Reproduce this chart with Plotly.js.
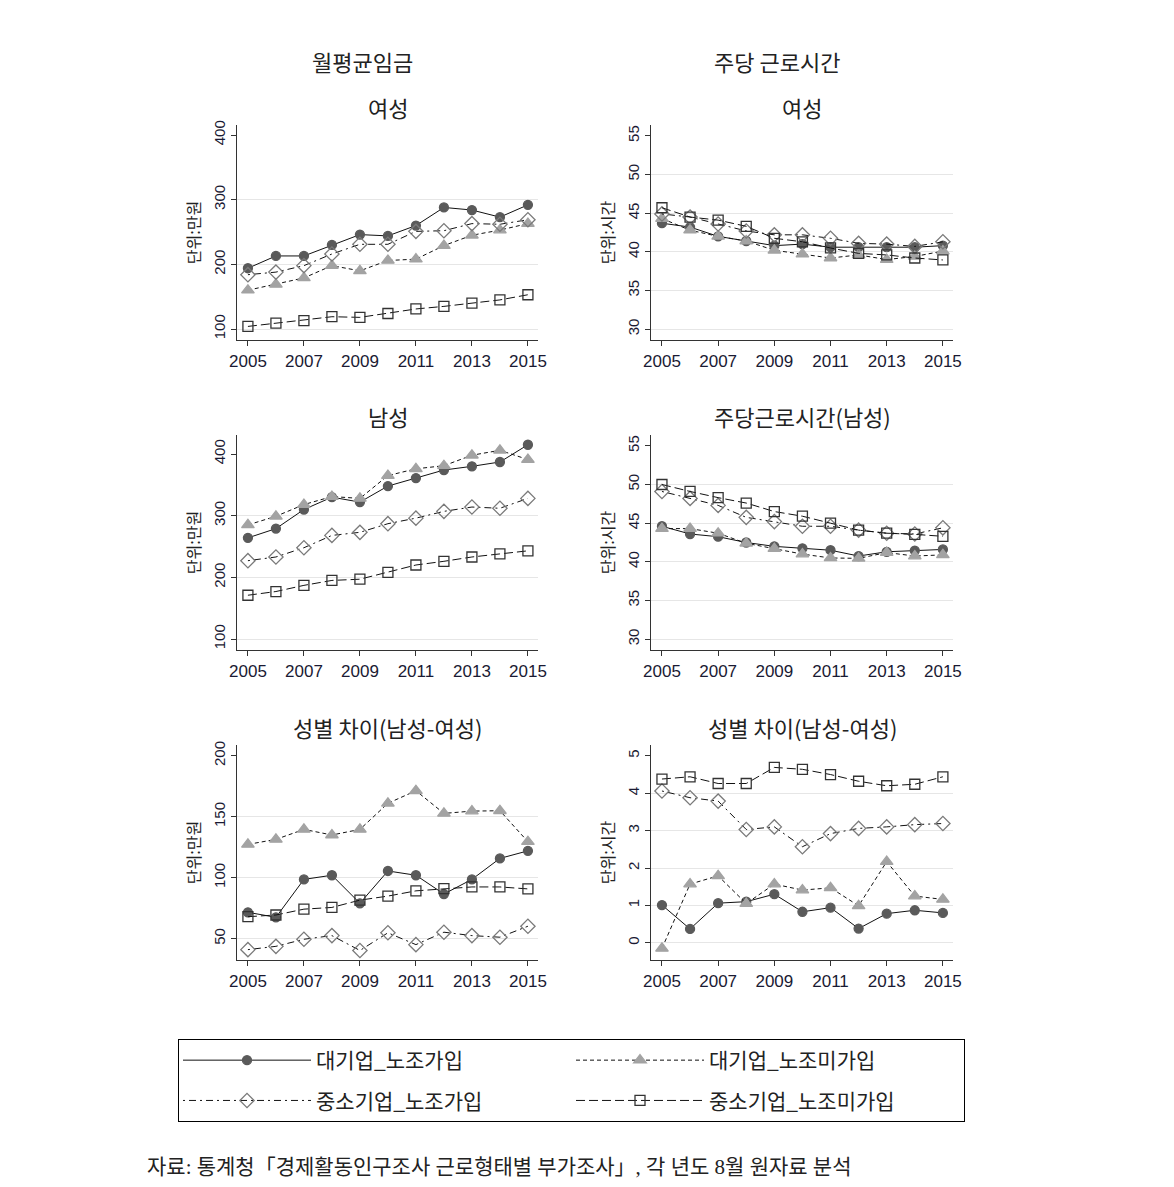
<!DOCTYPE html>
<html>
<head>
<meta charset="utf-8">
<script src="https://cdn.plot.ly/plotly-3.0.1.min.js"></script>
<style>html,body{margin:0;padding:0;background:#fff;}</style>
</head>
<body>
<div id="plot" style="width:1174px;height:1187px;"></div>
<script>
// 연도
const years = [2005, 2006, 2007, 2008, 2009, 2010, 2011, 2012, 2013, 2014, 2015];
const xTicks = [2005, 2007, 2009, 2011, 2013, 2015];

// 월평균임금 - 여성 (만원)
const wageF_LU = [194, 213, 213, 230, 246, 244, 260, 288, 284, 273, 292];
const wageF_LN = [160, 169, 179, 198, 190, 206, 208, 229, 245, 253, 263];
const wageF_SU = [184, 188, 198, 216, 231, 231, 251, 252, 263, 262, 269];
const wageF_SN = [104, 109, 113, 119, 118, 124, 131, 135, 140, 145, 153];

// 월평균임금 - 남성
const wageM_LU = [264, 279, 310, 330, 322, 348, 361, 374, 380, 387, 415];
const wageM_LN = [285, 299, 318, 331, 328, 365, 376, 381, 398, 406, 391];
const wageM_SU = [227, 233, 248, 268, 273, 287, 296, 307, 314, 312, 328];
const wageM_SN = [171, 177, 187, 195, 197, 208, 220, 226, 233, 238, 243];

// 월평균임금 - 성별 차이
const wageG_LU = [71.6, 67.5, 98.6, 102, 79, 105.5, 102, 86.6, 98.6, 115.8, 122];
const wageG_LN = [127.3, 131.4, 139.6, 135, 139.6, 161, 171.3, 152.7, 154.6, 154.9, 129.5];
const wageG_SU = [41, 43.7, 49.5, 52.5, 40.3, 54.8, 45.1, 55.3, 52.5, 51.2, 60.2];
const wageG_SN = [68, 69.4, 74.2, 75.6, 81.6, 84.9, 89.2, 91, 92.4, 92.4, 90.8];

// 주당 근로시간 - 여성 (시간)
const hourF_LU = [43.7, 43.2, 42.0, 41.4, 40.8, 41.0, 40.6, 40.6, 40.6, 40.6, 40.8];
const hourF_LN = [44.3, 42.8, 42.0, 41.4, 40.2, 39.7, 39.2, 39.6, 39.0, 39.4, 40.1];
const hourF_SU = [44.9, 44.5, 43.6, 42.7, 42.2, 42.2, 41.75, 41.1, 41.0, 40.7, 41.3];
const hourF_SN = [45.7, 44.5, 44.1, 43.3, 41.75, 41.3, 40.5, 39.8, 39.6, 39.2, 38.95];

// 주당 근로시간 - 남성
const hourM_LU = [44.6, 43.6, 43.25, 42.5, 42.0, 41.75, 41.5, 40.75, 41.3, 41.45, 41.6];
const hourM_LN = [44.3, 44.3, 43.7, 42.4, 41.7, 41.0, 40.5, 40.45, 41.2, 40.75, 40.9];
const hourM_SU = [49.1, 48.2, 47.3, 45.75, 45.2, 44.6, 44.6, 44.1, 43.7, 43.6, 44.4];
const hourM_SN = [50.0, 49.1, 48.3, 47.6, 46.5, 45.9, 45.0, 44.1, 43.7, 43.55, 43.3];

// 주당 근로시간 - 성별 차이
const hourG_LU = [1.01, 0.37, 1.06, 1.1, 1.3, 0.83, 0.94, 0.38, 0.78, 0.87, 0.8];
const hourG_LN = [-0.15, 1.57, 1.79, 1.05, 1.57, 1.41, 1.47, 0.99, 2.17, 1.25, 1.16];
const hourG_SU = [4.06, 3.88, 3.79, 3.03, 3.1, 2.57, 2.92, 3.06, 3.1, 3.16, 3.19];
const hourG_SN = [4.38, 4.44, 4.26, 4.26, 4.69, 4.64, 4.5, 4.32, 4.2, 4.24, 4.44];

const seriesNames = ['대기업_노조가입', '대기업_노조미가입', '중소기업_노조가입', '중소기업_노조미가입'];
const colTitles = ['월평균임금', '주당 근로시간'];
const rowTitlesLeft = ['여성', '남성', '성별 차이(남성-여성)'];
const rowTitlesRight = ['여성', '주당근로시간(남성)', '성별 차이(남성-여성)'];
const footNote = '자료: 통계청「경제활동인구조사 근로형태별 부가조사」, 각 년도 8월 원자료 분석';

// 패널 구성
const panels = [
  { data: [wageF_LU, wageF_LN, wageF_SU, wageF_SN], col: 0, row: 0, range: [83, 415.5], ticks: [100, 200, 300, 400], unit: '단위:만원' },
  { data: [hourF_LU, hourF_LN, hourF_SU, hourF_SN], col: 1, row: 0, range: [28.6, 56.4], ticks: [30, 35, 40, 45, 50, 55], unit: '단위:시간' },
  { data: [wageM_LU, wageM_LN, wageM_SU, wageM_SN], col: 0, row: 1, range: [82.2, 430.8], ticks: [100, 200, 300, 400], unit: '단위:만원' },
  { data: [hourM_LU, hourM_LN, hourM_SU, hourM_SN], col: 1, row: 1, range: [28.6, 56.4], ticks: [30, 35, 40, 45, 50, 55], unit: '단위:시간' },
  { data: [wageG_LU, wageG_LN, wageG_SU, wageG_SN], col: 0, row: 2, range: [32.5, 208.8], ticks: [50, 100, 150, 200], unit: '단위:만원' },
  { data: [hourG_LU, hourG_LN, hourG_SU, hourG_SN], col: 1, row: 2, range: [-0.46, 5.29], ticks: [0, 1, 2, 3, 4, 5], unit: '단위:시간' }
];

const styles = [
  { dash: 'solid', symbol: 'circle', color: '#5a5a5a', size: 9 },
  { dash: '4px,3px', symbol: 'triangle-up', color: '#a3a3a3', size: 11 },
  { dash: '2px,4px,7px,4px', symbol: 'diamond-open', color: '#7a7a7a', size: 11 },
  { dash: '9px,4px', symbol: 'square-open', color: '#333333', size: 10 }
];

// 픽셀 -> paper 좌표
const W = 1174, H = 1187, ML = 60, MR = 60;
const PW = W - ML - MR;
const fx = (p) => (p - ML) / PW;
const fy = (p) => 1 - p / H;

const colPx = [[237, 538], [651, 953]];
const rowPx = [[125, 340], [435, 650], [745, 960]];
const colCenter = [387.5, 802];
const rowTitleY = [107, 416, 727];

const font = "'Noto Sans CJK KR', 'Liberation Sans', Arial, sans-serif";
const tickFont = "'Liberation Sans', Arial, sans-serif";
const legendSymbolW = 128;

const traces = [];
const layout = {
  width: W, height: H,
  margin: { l: ML, r: MR, t: 0, b: 0 },
  paper_bgcolor: '#fff', plot_bgcolor: '#fff',
  showlegend: true,
  legend: {
    orientation: 'h',
    x: fx(178), y: fy(1039), xanchor: 'left', yanchor: 'top',
    entrywidth: 388 - legendSymbolW - 10, entrywidthmode: 'pixels',
    itemwidth: legendSymbolW,
    bordercolor: '#000', borderwidth: 1, bgcolor: '#fff',
    font: { family: font, size: 21, color: '#222' }
  },
  annotations: []
};

panels.forEach((p, i) => {
  const n = i + 1;
  const sfx = n === 1 ? '' : String(n);
  const ovl = String(n + 6);
  p.data.forEach((vals, k) => {
    const s = styles[k];
    traces.push({
      x: years, y: vals,
      xaxis: 'x' + sfx, yaxis: 'y' + sfx,
      type: 'scatter', mode: 'lines+markers',
      name: seriesNames[k], legendgroup: 'g' + k, showlegend: i === 0,
      line: { color: '#111', width: 1, dash: s.dash },
      marker: { symbol: s.symbol, color: s.color, size: s.size, line: { color: s.color, width: 1.3 } }
    });
  });
  const cx = colPx[p.col], ry = rowPx[p.row];
  const top = p.ticks[p.ticks.length - 1];
  layout['xaxis' + sfx] = {
    domain: [fx(cx[0]), fx(cx[1])],
    anchor: 'y' + sfx,
    range: [2004.61, 2015.36],
    tickvals: xTicks, ticks: 'outside', ticklen: 5, tickcolor: '#333',
    showgrid: false, zeroline: false,
    showline: true, linecolor: '#333', linewidth: 1.3,
    tickfont: { family: tickFont, size: 17, color: '#1a1a33' }
  };
  // 격자선은 맨 위 눈금 제외
  layout['yaxis' + sfx] = {
    domain: [fy(ry[1]), fy(ry[0])],
    anchor: 'x' + sfx,
    range: p.range,
    tickvals: p.ticks.slice(0, -1), tickangle: -90, ticks: 'outside', ticklen: 5, tickcolor: '#333',
    showgrid: true, gridcolor: '#e6e6e6', gridwidth: 1, zeroline: false,
    showline: true, linecolor: '#333', linewidth: 1.3,
    tickfont: { family: tickFont, size: 15, color: '#1a1a33' },
    title: { text: p.unit, font: { family: font, size: 16, color: '#222' }, standoff: 6 }
  };
  // 맨 위 눈금만 따로
  layout['yaxis' + ovl] = {
    overlaying: 'y' + sfx, anchor: 'x' + sfx, side: 'left',
    range: p.range,
    tickvals: [top], tickangle: -90, ticks: 'outside', ticklen: 5, tickcolor: '#333',
    showgrid: false, zeroline: false, showline: false,
    tickfont: { family: tickFont, size: 15, color: '#1a1a33' }
  };
  traces.push({
    x: [], y: [], xaxis: 'x' + sfx, yaxis: 'y' + ovl,
    type: 'scatter', mode: 'markers', showlegend: false, hoverinfo: 'skip'
  });
});

colTitles.forEach((t, c) => {
  layout.annotations.push({
    text: t, xref: 'paper', yref: 'paper', x: fx([362, 777][c]), y: fy(61),
    xanchor: 'center', yanchor: 'middle', showarrow: false,
    font: { family: font, size: 22, color: '#222' }
  });
});
[rowTitlesLeft, rowTitlesRight].forEach((titles, c) => {
  titles.forEach((t, r) => {
    layout.annotations.push({
      text: t, xref: 'paper', yref: 'paper', x: fx(colCenter[c]), y: fy(rowTitleY[r]),
      xanchor: 'center', yanchor: 'middle', showarrow: false,
      font: { family: font, size: 22, color: '#222' }
    });
  });
});
layout.annotations.push({
  text: footNote, xref: 'paper', yref: 'paper', x: fx(145), y: fy(1167),
  xanchor: 'left', yanchor: 'middle', showarrow: false,
  font: { family: "'Liberation Serif', 'Noto Sans CJK KR', serif", size: 21, color: '#222' }
});

Plotly.newPlot('plot', traces, layout, { displayModeBar: false, staticPlot: true });
</script>
</body>
</html>
